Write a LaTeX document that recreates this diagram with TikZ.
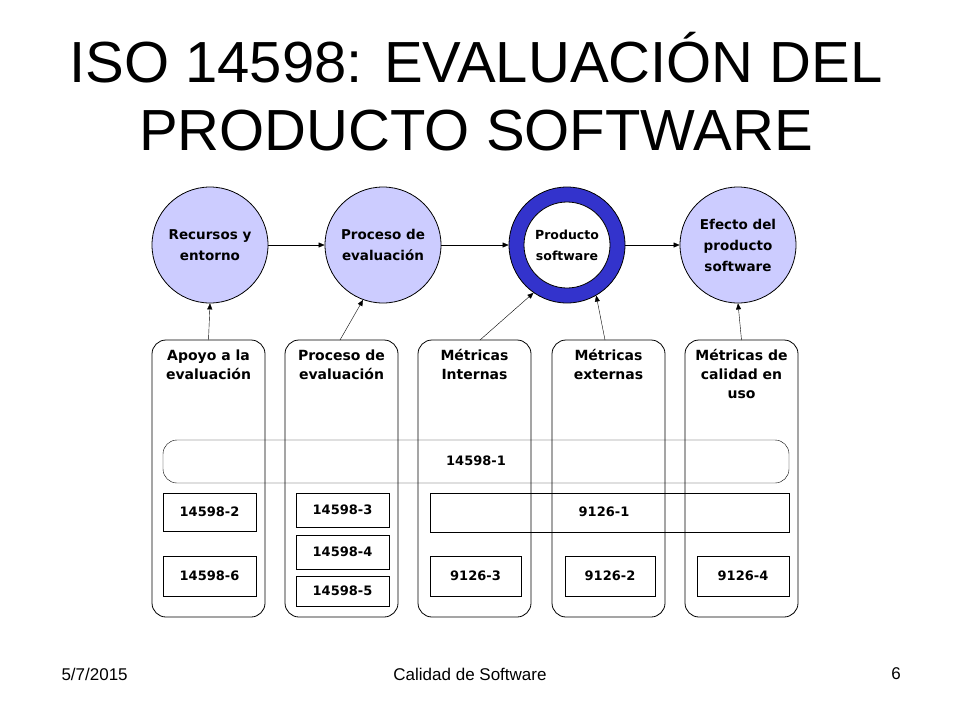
\documentclass[tikz,border=0pt]{standalone}
\usepackage{fontspec}
\setmainfont{Liberation Sans}
\newfontfamily\dv{DejaVu Sans}
\usetikzlibrary{arrows.meta}
\definecolor{lav}{RGB}{204,204,255}
\definecolor{ringblue}{RGB}{51,51,204}
\tikzset{
 circ/.style={circle,draw,thick,fill=lav,minimum size=116pt,inner sep=0pt,align=center,font=\dv\bfseries\fontsize{13.5}{21}\selectfont},
 col/.style={draw,rounded corners=14pt,thick},
 bx/.style={inner sep=0pt,font=\dv\bfseries\fontsize{13}{15}\selectfont},
 lbl/.style={align=center,font=\dv\bfseries\fontsize{14}{19}\selectfont},
 arr/.style={-{Triangle[length=6pt,width=5pt]}}
}
\begin{document}
\begin{tikzpicture}[x=1pt,y=-1pt]
\useasboundingbox (0,0) rectangle (960,720);
\node[font=\fontsize{58}{68}\selectfont,align=center] at (476,92) {ISO 14598: EVALUACIÓN DEL\\PRODUCTO SOFTWARE};
\node[font=\fontsize{17}{20}\selectfont,anchor=west] at (58,674) {5/7/2015};
\node[font=\fontsize{17}{20}\selectfont] at (470,674) {Calidad de Software};
\node[font=\fontsize{17}{20}\selectfont] at (896,674) {6};
% circles
\node[circ] (c1) at (210,245) {Recursos y\\entorno};
\node[circ] (c2) at (383,245) {Proceso de\\evaluación};
\node[circle,draw,thick,fill=ringblue,minimum size=116pt,inner sep=0pt] (c3) at (567,245) {};
\node[circle,draw,thick,fill=white,minimum size=86pt,inner sep=0pt,align=center,font=\dv\bfseries\fontsize{12.5}{21}\selectfont] (c3i) at (567,245) {Producto\\software};
\node[circ] (c4) at (738,245) {Efecto del\\producto\\software};
\draw[arr] (c1) -- (c2);
\draw[arr] (c2) -- (c3);
\draw[arr] (c3) -- (c4);
% columns
\foreach \n/\x in {k1/152,k2/285,k3/418,k4/552,k5/685}{
 \draw[col] (\x,340) rectangle ++(113,277);
 \coordinate (\n) at (\x+56.5,340);
}
\node[lbl,anchor=north] at (208.5,346) {Apoyo a la\\evaluación};
\node[lbl,anchor=north] at (341.5,346) {Proceso de\\evaluación};
\node[lbl,anchor=north] at (474.5,346) {Métricas\\Internas};
\node[lbl,anchor=north] at (608.5,346) {Métricas\\externas};
\node[lbl,anchor=north] at (741.5,346) {Métricas de\\calidad en\\uso};
\coordinate (a2) at (340,340); \coordinate (a3) at (480,340); \coordinate (a4) at (605,340);
\draw[arr] (k1) -- (c1.south);
\draw[arr] (a2) -- (c2.250);
\draw[arr] (a3) -- (c3.235);
\draw[arr] (a4) -- (c3.300);
\draw[arr] (k5) -- (c4.south);
% bar
\draw[rounded corners=14pt] (163,440) rectangle (789,483);
\node[bx] (b1) at (476,461) {14598-1};
\foreach \a/\b/\c/\d in {163/493/256/531,163/556/256/596,296/493/389/527,296/535/389/569,296/576/389/606,430/493/789/532,430/556/521/596,565/556/655/596,697/556/789/596}{
 \draw (\a,\b) rectangle (\c,\d);
}
\node[bx] at (209.5,512) {14598-2};
\node[bx] at (209.5,576) {14598-6};
\node[bx] at (342.5,510) {14598-3};
\node[bx] at (342.5,552) {14598-4};
\node[bx] at (342.5,591) {14598-5};
\node[bx] at (604,512) {9126-1};
\node[bx] at (475.5,576) {9126-3};
\node[bx] at (610,576) {9126-2};
\node[bx] at (743,576) {9126-4};
\end{tikzpicture}
\end{document}
